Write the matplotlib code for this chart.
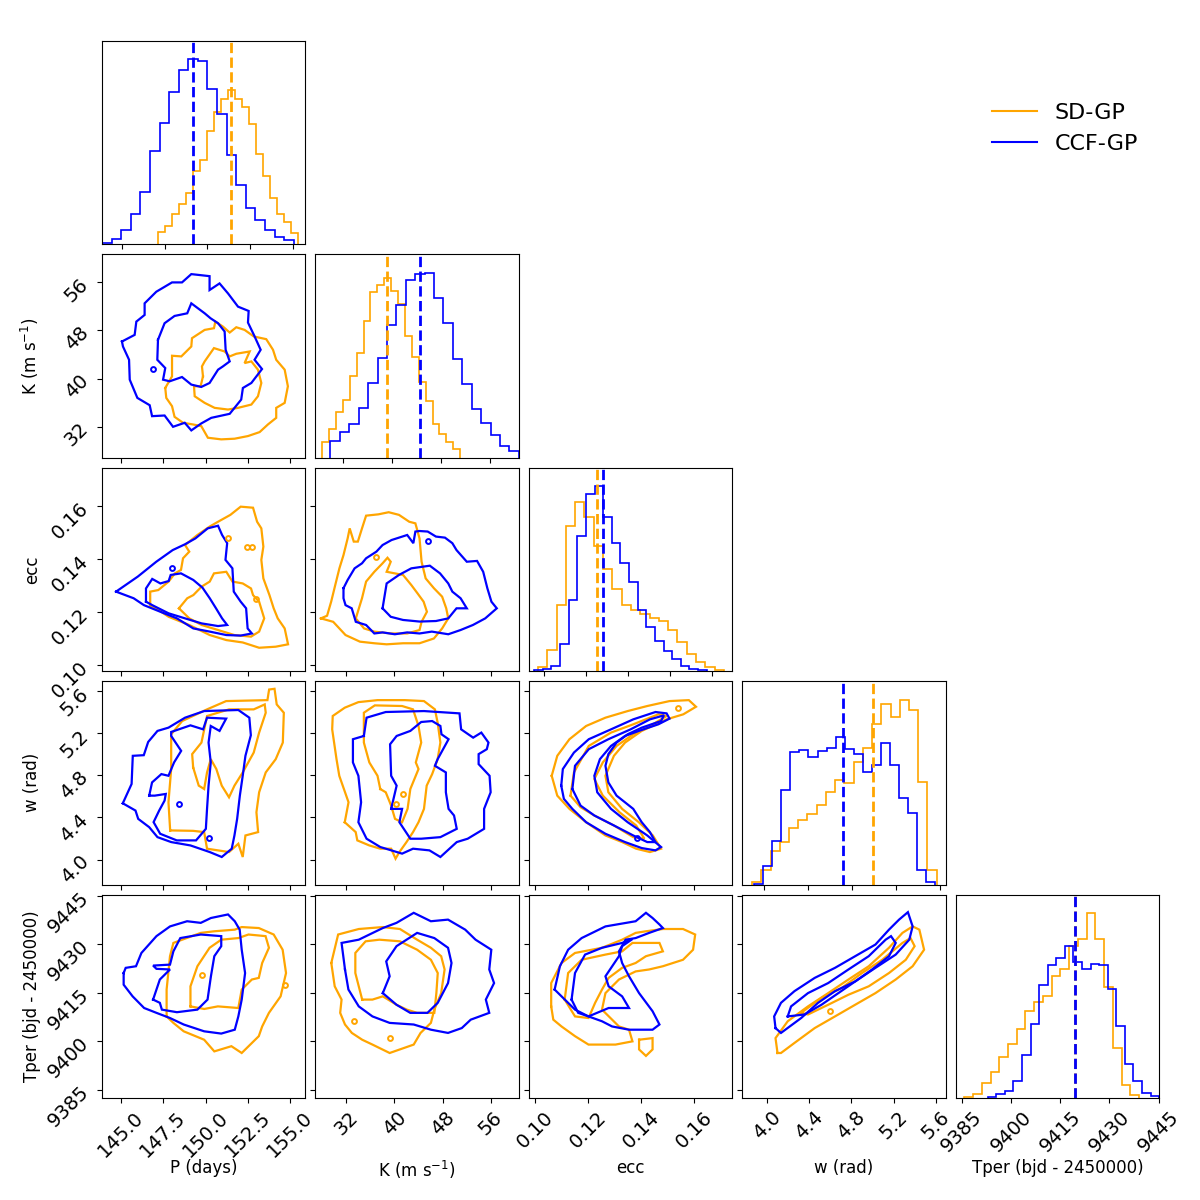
import numpy as np
import matplotlib.pyplot as plt
from matplotlib.ticker import FixedLocator, ScalarFormatter, NullFormatter
from matplotlib.lines import Line2D

SD_COLOR = 'orange'
CCF_COLOR = 'blue'

# Parameters, axis labels, tick values
LABELS = ['P (days)', 'K (m s$^{-1}$)', 'ecc', 'w (rad)', 'Tper (bjd - 2450000)']
TICKS = [
    [145.0, 147.5, 150.0, 152.5, 155.0],
    [32, 40, 48, 56],
    [0.10, 0.12, 0.14, 0.16],
    [4.0, 4.4, 4.8, 5.2, 5.6],
    [9385, 9400, 9415, 9430, 9445],
]
DIAG_TICKS = [
    [145.0, 147.5, 150.0, 152.5, 155.0],
    [32, 40, 48, 56],
    [0.10, 0.12, 0.14, 0.16, 0.18],
    [4.0, 4.4, 4.8, 5.2, 5.6],
    [9385, 9400, 9415, 9430, 9445],
]
LIMITS = [(143.88, 155.9), (26.86, 60.68), (0.0977, 0.1745), (3.762, 5.697), (9382.5, 9445.3)]
DIAG_LIMITS = [(143.83, 155.73), (27.49, 60.7), (0.0929, 0.1896), (3.803, 5.655), (9383.27, 9445.12)]

# 1D marginal histograms (20 bins each) and their ranges
P_SD_HIST = [59, 87, 149, 197, 251, 361, 413, 559, 649, 713, 759, 713, 674, 590, 444, 333, 226, 149, 111, 54]
P_SD_RANGE = (147.11, 155.30)
P_CCF_HIST = [5, 25, 70, 148, 259, 459, 595, 748, 859, 910, 903, 764, 641, 439, 289, 180, 120, 70, 33, 18]
P_CCF_RANGE = (143.83, 155.05)

K_SD_HIST = [77, 142, 225, 281, 400, 514, 669, 812, 845, 881, 816, 754, 595, 493, 372, 277, 166, 114, 77, 44]
K_SD_RANGE = (28.58, 51.13)
K_CCF_HIST = [82, 126, 166, 245, 367, 486, 648, 746, 870, 897, 905, 783, 661, 481, 359, 237, 168, 111, 57, 33]
K_CCF_RANGE = (29.94, 60.7)

ECC_SD_HIST = [21, 103, 325, 713, 830, 759, 615, 502, 403, 325, 300, 280, 259, 248, 200, 141, 82, 43, 18, 5]
ECC_SD_RANGE = (0.0972, 0.1856)
ECC_CCF_HIST = [3, 8, 25, 131, 349, 664, 874, 910, 759, 631, 534, 439, 303, 215, 148, 98, 59, 26, 8, 5]
ECC_CCF_RANGE = (0.0954, 0.1774)

W_SD_HIST = [13, 73, 165, 209, 277, 315, 344, 388, 454, 514, 499, 600, 669, 788, 886, 821, 905, 855, 502, 70]
W_SD_RANGE = (3.891, 5.573)
W_CCF_HIST = [5, 91, 212, 465, 649, 657, 623, 654, 670, 723, 662, 638, 551, 587, 693, 587, 424, 351, 70, 13]
W_CCF_RANGE = (3.909, 5.561)

TPER_SD_HIST = [3, 20, 74, 127, 203, 267, 343, 432, 474, 502, 605, 640, 750, 786, 914, 786, 549, 247, 66, 16]
TPER_SD_RANGE = (9385.82, 9439.01)
TPER_CCF_HIST = [5, 20, 36, 86, 214, 366, 560, 656, 692, 750, 671, 638, 664, 656, 539, 354, 170, 86, 25, 8]
TPER_CCF_RANGE = (9392.95, 9445.12)

# Medians (dashed lines)
SD_MEDIANS = [151.36, 39.12, 0.1255, 4.997, 9419.6]
CCF_MEDIANS = [149.17, 44.50, 0.1283, 4.718, 9419.65]

# 2D contours (1 = inner, 2 = outer level), in data units
P_K_CCF_2 = [(145.06, 46.17), (145.81, 47.27), (145.91, 49.48), (146.40, 50.59), (146.40, 52.52), (147.09, 54.45),
             (148.02, 56.0), (148.61, 56.0), (149.16, 57.38), (150.24, 57.04), (150.24, 54.73), (150.83, 55.83),
             (151.33, 54.17), (151.92, 51.97), (152.55, 51.25), (152.51, 49.32), (152.86, 47.27), (153.26, 44.79),
             (152.90, 43.13), (153.34, 41.59), (152.71, 39.27), (152.21, 38.44), (152.11, 36.51), (151.43, 34.14),
             (150.34, 33.47), (149.75, 32.54), (149.16, 31.38), (148.77, 32.65), (148.08, 31.98), (147.58, 33.86),
             (146.84, 33.75), (146.70, 35.57), (145.97, 36.79), (145.52, 39.82), (145.48, 43.13), (145.12, 45.34)]
P_K_CCF_1 = [(147.19, 46.45), (147.15, 43.13), (147.62, 41.75), (147.49, 39.82), (147.88, 39.55), (148.61, 40.26),
             (149.16, 39.0), (149.75, 38.61), (150.24, 39.27), (150.74, 41.48), (151.03, 42.03), (151.43, 42.86),
             (151.19, 44.79), (151.13, 47.83), (150.74, 49.21), (150.30, 50.03), (149.95, 50.86), (149.16, 52.52),
             (148.92, 50.86), (148.17, 50.42), (147.58, 49.21)]
P_K_SD_2 = [(147.62, 38.44), (148.02, 40.37), (148.02, 43.80), (148.57, 43.69), (149.16, 45.34), (149.20, 46.72),
            (149.95, 48.10), (150.50, 48.38), (150.58, 49.48), (151.03, 48.65), (151.43, 47.66), (151.82, 48.54),
            (152.31, 48.10), (152.86, 47.0), (153.59, 46.56), (153.99, 44.79), (154.18, 43.13), (154.68, 41.48),
            (154.87, 38.72), (154.68, 35.96), (154.18, 35.13), (154.18, 33.47), (153.69, 32.37), (153.20, 31.10),
            (152.51, 30.44), (151.72, 30.0), (150.93, 29.89), (150.14, 30.16), (149.75, 32.09), (149.26, 32.37),
            (148.67, 32.65), (148.17, 33.64), (148.02, 35.41), (147.68, 36.79)]
P_K_SD_1 = [(149.85, 40.37), (149.79, 42.03), (149.95, 42.86), (150.50, 45.07), (151.13, 44.51), (151.43, 43.69),
            (151.82, 44.13), (152.61, 44.51), (152.31, 42.58), (152.71, 42.86), (153.10, 41.48), (153.30, 39.27),
            (153.10, 37.06), (152.71, 35.68), (151.92, 35.13), (151.33, 34.85), (150.54, 35.13), (149.95, 35.96),
            (149.36, 37.06), (149.32, 38.72), (149.71, 38.72)]

P_ECC_CCF_2 = [(144.71, 0.1277), (146.00, 0.1334), (147.09, 0.1390), (148.06, 0.1434), (148.79, 0.1456),
               (149.40, 0.1478), (150.13, 0.1516), (150.74, 0.1526), (150.98, 0.1491), (151.28, 0.1460),
               (151.18, 0.1397), (151.59, 0.1365), (151.67, 0.1277), (152.08, 0.1239), (152.40, 0.1214),
               (152.49, 0.1138), (152.74, 0.1119), (152.08, 0.1111), (151.23, 0.1113), (150.25, 0.1126),
               (149.28, 0.1138), (148.31, 0.1176), (147.33, 0.1201), (146.36, 0.1226), (145.75, 0.1252)]
P_ECC_CCF_1 = [(146.48, 0.1239), (146.48, 0.1289), (146.85, 0.1325), (147.33, 0.1308), (147.82, 0.1317),
               (147.94, 0.1340), (148.55, 0.1346), (149.28, 0.1321), (149.82, 0.1292), (150.25, 0.1252),
               (150.62, 0.1214), (150.98, 0.1176), (151.28, 0.1151), (150.74, 0.1147), (149.77, 0.1157),
               (148.79, 0.1176), (147.82, 0.1195), (146.85, 0.1226)]
P_ECC_SD_2 = [(146.73, 0.1226), (146.73, 0.1277), (147.21, 0.1283), (147.82, 0.1315), (148.19, 0.1346),
              (148.55, 0.1359), (148.67, 0.1403), (149.04, 0.1428), (148.79, 0.1453), (149.52, 0.1491),
              (150.25, 0.1523), (150.74, 0.1541), (151.47, 0.1567), (152.08, 0.1598), (152.81, 0.1594),
              (153.05, 0.1541), (153.30, 0.1516), (153.42, 0.1447), (153.30, 0.1397), (153.42, 0.1327),
              (153.78, 0.1264), (154.03, 0.1214), (154.27, 0.1176), (154.68, 0.1138), (154.88, 0.1078),
              (154.15, 0.1069), (153.17, 0.1065), (152.20, 0.1085), (151.23, 0.1094), (150.25, 0.1113),
              (149.04, 0.1151), (147.82, 0.1182), (147.21, 0.1208)]
P_ECC_SD_1 = [(148.43, 0.1214), (148.92, 0.1252), (149.28, 0.1264), (149.77, 0.1296), (150.25, 0.1315),
              (150.50, 0.1346), (151.23, 0.1352), (151.59, 0.1315), (152.20, 0.1308), (152.69, 0.1289),
              (152.81, 0.1264), (153.17, 0.1239), (153.47, 0.1176), (153.17, 0.1126), (152.69, 0.1107),
              (151.71, 0.1113), (150.74, 0.1132), (149.77, 0.1151), (149.04, 0.1176)]

K_ECC_CCF_2 = [(31.52, 0.1290), (32.21, 0.1321), (33.37, 0.1365), (34.60, 0.1384), (35.28, 0.1403), (36.99, 0.1428),
               (38.02, 0.1453), (39.52, 0.1472), (41.30, 0.1485), (42.12, 0.1491), (43.14, 0.1460), (43.48, 0.1504),
               (44.17, 0.1506), (45.53, 0.1504), (46.90, 0.1485), (48.40, 0.1481), (49.63, 0.1460), (50.32, 0.1434),
               (52.03, 0.1390), (53.74, 0.1393), (54.76, 0.1352), (55.45, 0.1290), (56.13, 0.1239), (57.02, 0.1214),
               (55.10, 0.1176), (53.05, 0.1151), (51.0, 0.1132), (48.95, 0.1116), (46.22, 0.1126), (44.17, 0.1119),
               (42.12, 0.1123), (40.07, 0.1116), (38.02, 0.1123), (36.65, 0.1119), (35.28, 0.1151), (33.57, 0.1163),
               (32.89, 0.1214), (31.86, 0.1226), (31.52, 0.1252)]
K_ECC_CCF_1 = [(38.02, 0.1214), (38.70, 0.1308), (40.75, 0.1340), (42.80, 0.1365), (45.88, 0.1375), (47.58, 0.1346),
               (48.95, 0.1308), (49.63, 0.1277), (51.0, 0.1252), (52.03, 0.1214), (50.32, 0.1214), (48.95, 0.1176),
               (46.90, 0.1166), (44.17, 0.1164), (41.43, 0.1170), (39.38, 0.1182)]
K_ECC_SD_2 = [(27.76, 0.1176), (28.79, 0.1186), (29.47, 0.1239), (30.15, 0.1302), (30.84, 0.1365), (31.52, 0.1415),
              (32.21, 0.1478), (32.55, 0.1516), (33.23, 0.1466), (33.91, 0.1466), (34.60, 0.1516), (35.28, 0.1564),
              (37.33, 0.1569), (39.04, 0.1577), (40.75, 0.1567), (42.46, 0.1541), (43.48, 0.1535), (44.17, 0.1478),
              (44.51, 0.1390), (45.19, 0.1327), (46.56, 0.1290), (47.93, 0.1258), (48.61, 0.1214), (48.95, 0.1176),
              (47.93, 0.1138), (46.56, 0.1100), (44.17, 0.1082), (41.43, 0.1082), (38.70, 0.1078), (36.65, 0.1082),
              (34.26, 0.1088), (31.86, 0.1113), (29.81, 0.1163)]
K_ECC_SD_1 = [(33.57, 0.1176), (34.60, 0.1252), (35.28, 0.1315), (36.65, 0.1352), (38.02, 0.1384), (38.84, 0.1405),
              (39.38, 0.1390), (38.70, 0.1352), (40.07, 0.1346), (41.43, 0.1340), (42.80, 0.1302), (43.82, 0.1271),
              (44.85, 0.1239), (45.40, 0.1201), (44.51, 0.1163), (44.17, 0.1132), (42.12, 0.1119), (39.38, 0.1119),
              (36.65, 0.1126), (34.94, 0.1138)]

P_W_CCF_2 = [(145.11, 4.535), (145.63, 4.719), (145.70, 4.987), (146.35, 4.993), (146.61, 5.119), (147.16, 5.224),
             (147.81, 5.255), (148.79, 5.350), (149.92, 5.413), (151.94, 5.423), (152.59, 5.350), (152.68, 5.183),
             (152.36, 4.987), (152.20, 4.797), (152.03, 4.608), (151.87, 4.387), (151.71, 4.229), (151.55, 4.103),
             (150.96, 4.024), (150.25, 4.071), (149.11, 4.134), (147.97, 4.166), (147.16, 4.213), (146.67, 4.308),
             (146.02, 4.387), (145.86, 4.466)]
P_W_CCF_1 = [(146.67, 4.608), (146.84, 4.734), (147.39, 4.813), (147.81, 4.797), (148.14, 4.924), (148.56, 5.034),
             (147.97, 5.176), (147.97, 5.214), (149.11, 5.277), (149.86, 5.239), (150.09, 5.350), (151.22, 5.341),
             (150.83, 5.224), (150.31, 5.271), (150.18, 5.113), (150.31, 4.924), (150.18, 4.703), (150.09, 4.482),
             (150.02, 4.292), (149.44, 4.182), (148.30, 4.182), (147.32, 4.245), (146.93, 4.356), (147.26, 4.466),
             (147.58, 4.561), (147.65, 4.624), (147.0, 4.608)]
P_W_SD_2 = [(147.91, 4.277), (147.81, 4.545), (147.97, 4.861), (147.97, 5.192), (148.62, 5.318), (150.09, 5.429),
            (151.22, 5.508), (153.66, 5.517), (153.76, 5.618), (154.08, 5.625), (154.21, 5.476), (154.63, 5.397),
            (154.57, 5.113), (154.15, 4.955), (153.56, 4.829), (153.17, 4.640), (153.01, 4.450), (153.11, 4.261),
            (152.36, 4.229), (152.20, 4.024), (151.94, 4.150), (151.39, 4.071), (150.09, 4.103), (149.92, 4.261),
            (149.27, 4.273)]
P_W_SD_1 = [(149.27, 4.876), (149.21, 5.003), (149.76, 5.113), (150.09, 5.366), (151.39, 5.429), (152.85, 5.429),
            (153.50, 5.476), (153.56, 5.397), (153.17, 5.208), (152.85, 5.018), (152.20, 4.829), (151.71, 4.703),
            (151.39, 4.592), (150.96, 4.703), (150.64, 4.861), (150.31, 4.955), (150.09, 4.829), (149.92, 4.671),
            (149.60, 4.703)]

K_W_CCF_2 = [(34.91, 5.176), (35.36, 5.350), (38.55, 5.404), (44.91, 5.413), (50.82, 5.391), (51.09, 5.239),
             (53.09, 5.160), (54.45, 5.208), (55.64, 5.113), (55.36, 5.050), (54.0, 5.003), (54.0, 4.908),
             (55.82, 4.797), (56.0, 4.640), (54.91, 4.482), (54.91, 4.292), (52.18, 4.198), (50.36, 4.166),
             (47.64, 4.024), (45.82, 4.087), (43.09, 4.103), (41.27, 4.056), (37.64, 4.119), (35.36, 4.198),
             (34.0, 4.355), (34.45, 4.545), (34.0, 4.797), (33.09, 4.924), (33.09, 5.145)]
K_W_CCF_1 = [(39.45, 4.482), (40.36, 4.703), (39.45, 4.797), (39.27, 5.097), (40.36, 5.176), (42.64, 5.224),
             (44.45, 5.309), (46.27, 5.318), (47.64, 5.271), (47.82, 5.192), (49.0, 5.145), (47.18, 4.955),
             (46.73, 4.892), (48.55, 4.829), (48.55, 4.640), (49.0, 4.482), (49.91, 4.419), (50.36, 4.292),
             (47.64, 4.213), (44.45, 4.198), (42.64, 4.198), (40.82, 4.355), (41.27, 4.482)]
K_W_SD_2 = [(31.73, 4.355), (32.36, 4.545), (30.82, 4.797), (30.36, 4.955), (29.64, 5.239), (29.73, 5.366),
            (31.73, 5.445), (34.0, 5.498), (37.18, 5.517), (41.73, 5.517), (44.91, 5.508), (46.73, 5.429),
            (47.18, 5.303), (47.64, 5.113), (47.18, 4.955), (46.27, 4.813), (45.36, 4.703), (44.91, 4.482),
            (44.0, 4.355), (43.09, 4.261), (42.0, 4.166), (40.82, 4.071), (40.18, 4.008), (39.45, 4.103),
            (37.64, 4.103), (35.82, 4.134), (33.82, 4.182), (33.55, 4.261)]
K_W_SD_1 = [(37.64, 4.671), (37.18, 4.797), (35.82, 4.924), (34.91, 5.113), (34.91, 5.397), (36.73, 5.467),
            (41.27, 5.461), (43.09, 5.429), (44.0, 5.271), (44.45, 5.113), (43.55, 4.924), (44.0, 4.861),
            (42.64, 4.671), (42.18, 4.482), (41.27, 4.355), (40.09, 4.387), (39.45, 4.513), (38.55, 4.640)]

ECC_W_CCF_2 = [(0.1099, 4.703), (0.1105, 4.861), (0.1147, 5.018), (0.1203, 5.145), (0.1287, 5.239), (0.1371, 5.334),
               (0.1455, 5.404), (0.1497, 5.391), (0.1508, 5.341), (0.1466, 5.287), (0.1392, 5.224), (0.1340, 5.176),
               (0.1287, 5.081), (0.1245, 4.955), (0.1224, 4.797), (0.1235, 4.640), (0.1287, 4.482), (0.1350, 4.355),
               (0.1424, 4.229), (0.1476, 4.119), (0.1455, 4.087), (0.1403, 4.109), (0.1340, 4.166), (0.1266, 4.245),
               (0.1193, 4.355), (0.1141, 4.482), (0.1109, 4.577)]
ECC_W_CCF_1 = [(0.1141, 4.671), (0.1151, 4.892), (0.1203, 5.050), (0.1277, 5.145), (0.1361, 5.239), (0.1434, 5.334),
               (0.1487, 5.372), (0.1476, 5.318), (0.1403, 5.255), (0.1350, 5.192), (0.1308, 5.113), (0.1277, 5.003),
               (0.1266, 4.892), (0.1277, 4.734), (0.1308, 4.608), (0.1371, 4.482), (0.1403, 4.355), (0.1434, 4.261),
               (0.1455, 4.166), (0.1424, 4.166), (0.1371, 4.229), (0.1298, 4.324), (0.1224, 4.419), (0.1172, 4.513)]
ECC_W_SD_2 = [(0.1063, 4.797), (0.1084, 4.987), (0.1130, 5.145), (0.1193, 5.271), (0.1266, 5.350), (0.1350, 5.413),
              (0.1424, 5.461), (0.1508, 5.508), (0.1581, 5.517), (0.1608, 5.454), (0.1560, 5.382), (0.1497, 5.334),
              (0.1403, 5.224), (0.1340, 5.113), (0.1298, 4.987), (0.1266, 4.797), (0.1277, 4.640), (0.1329, 4.482),
              (0.1392, 4.355), (0.1445, 4.229), (0.1476, 4.103), (0.1434, 4.071), (0.1382, 4.103), (0.1329, 4.166),
              (0.1266, 4.229), (0.1193, 4.355), (0.1130, 4.482), (0.1084, 4.608)]
ECC_W_SD_1 = [(0.1134, 4.608), (0.1147, 4.829), (0.1203, 5.081), (0.1287, 5.208), (0.1371, 5.287), (0.1466, 5.382),
              (0.1497, 5.366), (0.1445, 5.287), (0.1371, 5.192), (0.1308, 5.081), (0.1256, 4.924), (0.1224, 4.766),
              (0.1256, 4.608), (0.1319, 4.450), (0.1382, 4.324), (0.1413, 4.198), (0.1371, 4.213), (0.1298, 4.324),
              (0.1224, 4.419), (0.1172, 4.498)]

P_TPER_CCF_2 = [(145.16, 9421.1), (145.28, 9422.7), (145.89, 9423.2), (146.21, 9427.3), (147.10, 9432.5),
                (147.90, 9435.5), (148.91, 9437.1), (149.72, 9436.6), (150.32, 9438.1), (151.33, 9439.2),
                (151.73, 9437.1), (152.02, 9434.5), (152.14, 9428.3), (152.34, 9421.1), (152.14, 9412.9),
                (151.94, 9407.7), (151.73, 9403.6), (150.93, 9402.4), (149.92, 9403.1), (148.71, 9405.2),
                (147.90, 9407.2), (147.10, 9408.8), (146.37, 9410.3), (145.69, 9413.9), (145.16, 9417.5)]
P_TPER_CCF_1 = [(146.90, 9412.9), (147.30, 9419.1), (147.90, 9422.2), (147.10, 9422.4), (146.90, 9423.4),
                (147.90, 9423.7), (148.10, 9427.8), (148.51, 9431.9), (149.72, 9433.0), (150.93, 9432.5),
                (150.93, 9429.4), (150.52, 9426.3), (150.32, 9420.1), (150.12, 9412.9), (149.52, 9409.8),
                (148.31, 9409.0), (147.42, 9409.8), (147.30, 9411.9)]
P_TPER_SD_2 = [(147.70, 9407.7), (147.70, 9416.0), (147.90, 9426.3), (148.10, 9430.4), (149.72, 9433.5),
               (150.52, 9434.0), (151.73, 9434.5), (152.14, 9435.3), (153.15, 9435.0), (154.03, 9433.0),
               (154.56, 9428.3), (154.76, 9421.1), (154.44, 9413.9), (153.75, 9408.8), (153.35, 9404.6),
               (153.15, 9401.6), (152.14, 9396.4), (151.53, 9398.5), (150.52, 9396.9), (149.92, 9400.5),
               (148.71, 9403.1), (148.10, 9405.7)]
P_TPER_SD_1 = [(149.11, 9410.8), (149.11, 9417.0), (149.52, 9423.2), (150.24, 9428.9), (150.93, 9431.4),
               (151.94, 9431.9), (152.54, 9433.0), (153.55, 9432.5), (153.75, 9428.9), (153.35, 9424.2),
               (153.15, 9419.6), (152.74, 9419.1), (152.14, 9416.0), (151.94, 9410.3), (150.73, 9410.8),
               (149.92, 9410.0)]

K_TPER_CCF_2 = [(31.77, 9422.2), (31.20, 9430.4), (34.06, 9431.4), (38.06, 9435.0), (40.34, 9436.6), (43.20, 9439.7),
                (46.06, 9437.1), (48.91, 9437.6), (51.77, 9434.5), (53.49, 9431.4), (56.11, 9428.3), (55.77, 9422.2),
                (56.57, 9418.0), (55.20, 9412.9), (55.77, 9408.8), (52.69, 9406.7), (51.20, 9404.1), (48.91, 9402.6),
                (46.06, 9403.6), (43.20, 9405.2), (39.20, 9405.7), (36.34, 9407.7), (34.06, 9410.8), (32.34, 9416.0)]
K_TPER_CCF_1 = [(38.06, 9414.9), (39.20, 9420.1), (38.63, 9424.7), (40.34, 9429.4), (43.77, 9433.5), (46.63, 9431.9),
                (48.91, 9428.9), (49.49, 9424.2), (48.91, 9418.0), (47.20, 9411.9), (45.49, 9408.8), (42.63, 9408.8),
                (40.34, 9411.3)]
K_TPER_SD_2 = [(29.49, 9424.2), (30.63, 9433.0), (34.06, 9434.7), (38.06, 9435.3), (40.91, 9434.7), (43.77, 9431.4),
               (46.06, 9428.9), (47.77, 9426.3), (48.34, 9422.2), (47.77, 9414.9), (46.63, 9409.8), (46.06, 9405.7),
               (44.34, 9402.6), (43.20, 9399.0), (39.20, 9396.4), (36.34, 9399.0), (34.63, 9400.5), (32.91, 9402.6),
               (31.77, 9405.2), (30.97, 9408.8), (31.20, 9412.9), (30.06, 9417.0)]
K_TPER_SD_1 = [(34.63, 9412.9), (33.49, 9421.1), (33.49, 9427.3), (35.20, 9430.9), (37.49, 9431.4), (40.91, 9430.9),
               (43.77, 9428.3), (46.06, 9425.2), (47.20, 9421.1), (46.97, 9414.9), (46.63, 9408.8), (43.77, 9408.8),
               (42.06, 9409.8), (40.34, 9411.3), (38.06, 9413.9), (36.34, 9412.9)]

ECC_TPER_CCF_2 = [(0.1074, 9416.0), (0.1094, 9423.2), (0.1125, 9428.3), (0.1176, 9431.9), (0.1266, 9435.5),
                  (0.1380, 9437.1), (0.1419, 9439.7), (0.1444, 9438.1), (0.1470, 9436.1), (0.1483, 9435.0),
                  (0.1431, 9433.5), (0.1380, 9431.9), (0.1342, 9431.4), (0.1317, 9427.8), (0.1329, 9424.2),
                  (0.1355, 9420.1), (0.1393, 9414.9), (0.1444, 9409.3), (0.1470, 9405.2), (0.1444, 9403.6),
                  (0.1355, 9403.6), (0.1291, 9404.6), (0.1253, 9406.2), (0.1202, 9407.7), (0.1151, 9409.8)]
ECC_TPER_CCF_1 = [(0.1138, 9412.9), (0.1151, 9421.1), (0.1189, 9426.8), (0.1253, 9428.9), (0.1329, 9430.4),
                  (0.1368, 9431.6), (0.1329, 9429.4), (0.1317, 9426.3), (0.1266, 9420.1), (0.1278, 9417.0),
                  (0.1329, 9413.9), (0.1355, 9410.3), (0.1278, 9410.3), (0.1202, 9407.7), (0.1163, 9408.8)]
ECC_TPER_SD_2 = [(0.1061, 9410.8), (0.1061, 9418.0), (0.1100, 9424.2), (0.1151, 9427.3), (0.1253, 9428.9),
                 (0.1329, 9431.4), (0.1380, 9433.5), (0.1419, 9434.0), (0.1483, 9434.7), (0.1559, 9434.7),
                 (0.1605, 9433.0), (0.1597, 9428.3), (0.1559, 9425.2), (0.1483, 9423.2), (0.1431, 9422.2),
                 (0.1380, 9421.6), (0.1317, 9419.1), (0.1266, 9414.9), (0.1253, 9409.8), (0.1317, 9404.6),
                 (0.1355, 9403.6), (0.1368, 9400.0), (0.1304, 9399.0), (0.1202, 9399.0), (0.1151, 9401.6),
                 (0.1100, 9404.6), (0.1069, 9406.7)]
ECC_TPER_SD_1 = [(0.1112, 9412.9), (0.1125, 9421.1), (0.1176, 9425.2), (0.1266, 9426.8), (0.1329, 9427.8),
                 (0.1368, 9430.4), (0.1470, 9430.4), (0.1483, 9427.8), (0.1419, 9426.3), (0.1380, 9424.2),
                 (0.1329, 9422.7), (0.1278, 9419.6), (0.1253, 9416.0), (0.1227, 9411.9), (0.1202, 9407.2),
                 (0.1151, 9407.7)]
ECC_TPER_SD_ISLAND = [(0.1393, 9400.5), (0.1444, 9401.0), (0.1444, 9397.5), (0.1419, 9395.5), (0.1393, 9397.5)]

W_TPER_CCF_2 = [(4.077, 9404.1), (4.064, 9407.7), (4.129, 9411.9), (4.257, 9415.5), (4.450, 9419.6), (4.643, 9422.7),
                (4.835, 9426.3), (5.028, 9429.9), (5.157, 9434.5), (5.253, 9437.6), (5.337, 9439.9), (5.382, 9435.5),
                (5.350, 9431.4), (5.221, 9426.8), (5.028, 9422.7), (4.835, 9418.5), (4.643, 9415.5), (4.482, 9411.9),
                (4.321, 9407.2), (4.129, 9402.6)]
W_TPER_CCF_1 = [(4.193, 9407.7), (4.225, 9410.8), (4.386, 9414.9), (4.578, 9418.0), (4.771, 9422.2), (4.964, 9426.3),
                (5.125, 9431.4), (5.176, 9432.5), (5.221, 9430.4), (5.157, 9426.3), (4.996, 9422.2), (4.835, 9418.5),
                (4.675, 9414.9), (4.514, 9411.3), (4.353, 9408.3)]
W_TPER_SD_2 = [(4.096, 9396.4), (4.077, 9401.0), (4.193, 9406.2), (4.386, 9410.8), (4.578, 9414.9), (4.771, 9419.1),
               (4.964, 9423.2), (5.157, 9428.9), (5.285, 9433.5), (5.382, 9435.5), (5.446, 9434.5), (5.491, 9428.3),
               (5.382, 9423.2), (5.221, 9419.1), (5.028, 9414.9), (4.835, 9411.3), (4.643, 9407.7), (4.450, 9404.1),
               (4.257, 9399.5), (4.129, 9396.4)]
W_TPER_SD_1 = [(4.321, 9408.8), (4.514, 9413.4), (4.707, 9416.5), (4.900, 9421.1), (5.093, 9425.2), (5.285, 9430.4),
               (5.362, 9431.9), (5.401, 9429.4), (5.317, 9425.2), (5.157, 9421.1), (4.964, 9417.0), (4.771, 9414.4),
               (4.578, 9411.3), (4.386, 9408.3)]

# Small isolated contour islands: (row, col, color key, x, y)
ISLANDS = [
    (1, 0, 'ccf', 146.89, 41.59),
    (2, 0, 'ccf', 147.99, 0.1368), (2, 0, 'sd', 151.35, 0.1478), (2, 0, 'sd', 152.45, 0.1447),
    (2, 0, 'sd', 152.75, 0.1447), (2, 0, 'sd', 153.0, 0.1249),
    (2, 1, 'ccf', 45.5, 0.1468), (2, 1, 'sd', 36.99, 0.1409),
    (3, 0, 'ccf', 148.46, 4.529), (3, 0, 'ccf', 150.18, 4.204),
    (3, 1, 'sd', 41.45, 4.62), (3, 1, 'sd', 40.18, 4.53),
    (3, 2, 'ccf', 0.1386, 4.207), (3, 2, 'sd', 0.1539, 5.445),
    (4, 0, 'sd', 149.8, 9420.6), (4, 0, 'sd', 154.68, 9417.5),
    (4, 1, 'sd', 33.26, 9406.2), (4, 1, 'sd', 39.2, 9401.0),
    (4, 3, 'sd', 4.591, 9409.3),
]

HISTS = [
    (P_SD_HIST, P_SD_RANGE, P_CCF_HIST, P_CCF_RANGE),
    (K_SD_HIST, K_SD_RANGE, K_CCF_HIST, K_CCF_RANGE),
    (ECC_SD_HIST, ECC_SD_RANGE, ECC_CCF_HIST, ECC_CCF_RANGE),
    (W_SD_HIST, W_SD_RANGE, W_CCF_HIST, W_CCF_RANGE),
    (TPER_SD_HIST, TPER_SD_RANGE, TPER_CCF_HIST, TPER_CCF_RANGE),
]

CONTOURS = {
    (1, 0): ([P_K_SD_2, P_K_SD_1], [P_K_CCF_2, P_K_CCF_1]),
    (2, 0): ([P_ECC_SD_2, P_ECC_SD_1], [P_ECC_CCF_2, P_ECC_CCF_1]),
    (2, 1): ([K_ECC_SD_2, K_ECC_SD_1], [K_ECC_CCF_2, K_ECC_CCF_1]),
    (3, 0): ([P_W_SD_2, P_W_SD_1], [P_W_CCF_2, P_W_CCF_1]),
    (3, 1): ([K_W_SD_2, K_W_SD_1], [K_W_CCF_2, K_W_CCF_1]),
    (3, 2): ([ECC_W_SD_2, ECC_W_SD_1], [ECC_W_CCF_2, ECC_W_CCF_1]),
    (4, 0): ([P_TPER_SD_2, P_TPER_SD_1], [P_TPER_CCF_2, P_TPER_CCF_1]),
    (4, 1): ([K_TPER_SD_2, K_TPER_SD_1], [K_TPER_CCF_2, K_TPER_CCF_1]),
    (4, 2): ([ECC_TPER_SD_2, ECC_TPER_SD_1, ECC_TPER_SD_ISLAND], [ECC_TPER_CCF_2, ECC_TPER_CCF_1]),
    (4, 3): ([W_TPER_SD_2, W_TPER_SD_1], [W_TPER_CCF_2, W_TPER_CCF_1]),
}


def draw_closed(ax, pts, color):
    xs = [p[0] for p in pts] + [pts[0][0]]
    ys = [p[1] for p in pts] + [pts[0][1]]
    ax.plot(xs, ys, color=color, lw=1.6, solid_joinstyle='miter')


def set_axis_ticks(axis, ticks, show_labels):
    axis.set_major_locator(FixedLocator(ticks))
    if show_labels:
        axis.set_major_formatter(ScalarFormatter(useOffset=False))
    else:
        axis.set_major_formatter(NullFormatter())


n = len(LABELS)
fig, axes = plt.subplots(n, n, figsize=(12, 12), dpi=100)
fig.subplots_adjust(left=0.085, right=0.966, bottom=0.085, top=0.966, wspace=0.05, hspace=0.05)

for i in range(n):
    for j in range(n):
        ax = axes[i, j]
        if j > i:
            ax.set_visible(False)
            continue
        bottom_row = (i == n - 1)

        if i == j:
            sd_h, sd_r, ccf_h, ccf_r = HISTS[i]
            ax.stairs(sd_h, np.linspace(sd_r[0], sd_r[1], len(sd_h) + 1), color=SD_COLOR, lw=1.2)
            ax.axvline(SD_MEDIANS[i], color=SD_COLOR, ls='--', lw=2)
            ax.stairs(ccf_h, np.linspace(ccf_r[0], ccf_r[1], len(ccf_h) + 1), color=CCF_COLOR, lw=1.2)
            ax.axvline(CCF_MEDIANS[i], color=CCF_COLOR, ls='--', lw=2)
            ax.set_xlim(DIAG_LIMITS[i])
            ax.set_ylim(0, 1.1 * max(max(sd_h), max(ccf_h)))
            ax.set_yticks([])
            set_axis_ticks(ax.xaxis, DIAG_TICKS[i], bottom_row)
        else:
            sd_list, ccf_list = CONTOURS[(i, j)]
            for pts in sd_list:
                draw_closed(ax, pts, SD_COLOR)
            for pts in ccf_list:
                draw_closed(ax, pts, CCF_COLOR)
            for (r, c, key, x, y) in ISLANDS:
                if (r, c) == (i, j):
                    ax.plot([x], [y], marker='o', ms=3.5, mfc='none', mew=1.4,
                            color=SD_COLOR if key == 'sd' else CCF_COLOR)
            ax.set_xlim(LIMITS[j])
            ax.set_ylim(LIMITS[i])
            set_axis_ticks(ax.xaxis, TICKS[j], bottom_row)
            set_axis_ticks(ax.yaxis, TICKS[i], j == 0)
            if j == 0:
                ax.set_ylabel(LABELS[i], fontsize=12)
                ax.yaxis.set_label_coords(-0.3, 0.5)
                for lab in ax.get_yticklabels():
                    lab.set_rotation(45)

        ax.tick_params(labelsize=14)
        if bottom_row:
            ax.set_xlabel(LABELS[j], fontsize=12)
            ax.xaxis.set_label_coords(0.5, -0.3)
            for lab in ax.get_xticklabels():
                lab.set_rotation(45)

handles = [Line2D([], [], color=SD_COLOR, lw=1.5, label='SD-GP'),
           Line2D([], [], color=CCF_COLOR, lw=1.5, label='CCF-GP')]
fig.legend(handles=handles, loc='center', bbox_to_anchor=(0.8875, 0.893), frameon=False, fontsize=16)

fig.savefig('out.png', dpi=100)
